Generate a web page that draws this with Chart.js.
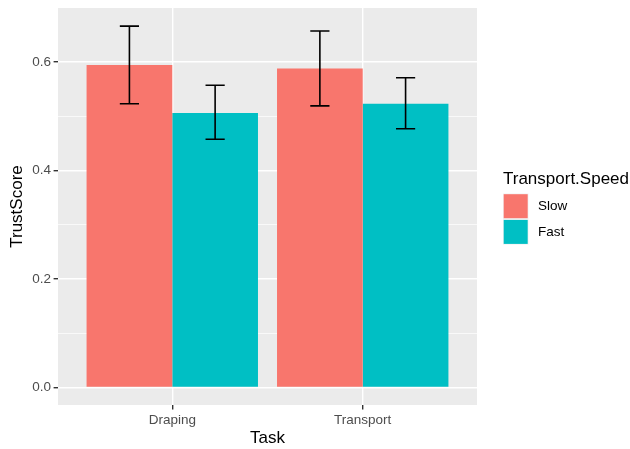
<!DOCTYPE html>
<html>
<head>
<meta charset="utf-8">
<script src="https://cdn.jsdelivr.net/npm/chart.js@4/dist/chart.umd.min.js"></script>
<style>
  html, body { margin: 0; padding: 0; background: #ffffff; }
  #wrap { width: 630px; height: 449px; }
</style>
</head>
<body>
<div id="wrap"><canvas id="c" width="630" height="449"></canvas></div>
<script>
// Mean trust score per task, split by transport speed, with error-bar limits
const tasks = ['Draping', 'Transport'];
const speeds = ['Slow', 'Fast'];
const slowMean = [0.5945, 0.588];
const fastMean = [0.506, 0.523];
const slowLow = [0.523, 0.519];
const slowHigh = [0.666, 0.657];
const fastLow = [0.4575, 0.477];
const fastHigh = [0.557, 0.571];
const yTicks = [0, 0.1, 0.2, 0.3, 0.4, 0.5, 0.6];

const colors = ['#F8766D', '#00BFC4'];
const FONT = '"Liberation Sans", Arial, sans-serif';

const toPoints = arr => arr.map((v, i) => ({ x: i + 1, y: v }));
const errorLimits = [
  { low: slowLow, high: slowHigh },
  { low: fastLow, high: fastHigh }
];

// grey panel behind the grid
const panelBg = {
  id: 'panelBg',
  beforeDraw(chart) {
    const { ctx, chartArea: a } = chart;
    ctx.save();
    ctx.fillStyle = '#EBEBEB';
    ctx.fillRect(a.left, a.top, a.right - a.left, a.bottom - a.top);
    ctx.restore();
  }
};

// whiskers with caps on each bar
const errorBars = {
  id: 'errorBars',
  afterDatasetsDraw(chart) {
    const { ctx } = chart;
    const yScale = chart.scales.y;
    const capHalf = 9.6;
    ctx.save();
    ctx.strokeStyle = '#000000';
    ctx.lineWidth = 1.6;
    chart.data.datasets.forEach((ds, di) => {
      const meta = chart.getDatasetMeta(di);
      meta.data.forEach((bar, i) => {
        const x = bar.x;
        const yLo = yScale.getPixelForValue(errorLimits[di].low[i]);
        const yHi = yScale.getPixelForValue(errorLimits[di].high[i]);
        ctx.beginPath();
        ctx.moveTo(x, yLo); ctx.lineTo(x, yHi);
        ctx.moveTo(x - capHalf, yHi); ctx.lineTo(x + capHalf, yHi);
        ctx.moveTo(x - capHalf, yLo); ctx.lineTo(x + capHalf, yLo);
        ctx.stroke();
      });
    });
    ctx.restore();
  }
};

// legend block on the right: title plus filled keys
const sideLegend = {
  id: 'sideLegend',
  afterDraw(chart) {
    const { ctx } = chart;
    const x0 = 503;
    ctx.save();
    ctx.fillStyle = '#000000';
    ctx.font = '17px ' + FONT;
    ctx.textAlign = 'left';
    ctx.textBaseline = 'alphabetic';
    ctx.fillText('Transport.Speed', x0, 184);
    chart.data.datasets.forEach((ds, i) => {
      const top = 194 + i * 25.7;
      ctx.fillStyle = '#F2F2F2';
      ctx.fillRect(x0, top - 0.5, 25.5, 25.5);
      ctx.fillStyle = ds.backgroundColor;
      ctx.fillRect(x0 + 0.7, top + 0.2, 24, 24);
      ctx.fillStyle = '#000000';
      ctx.font = '13.5px ' + FONT;
      ctx.textBaseline = 'middle';
      ctx.fillText(ds.label, 538, top + 12.7);
    });
    ctx.restore();
  }
};

new Chart(document.getElementById('c'), {
  type: 'bar',
  data: {
    datasets: [
      { label: speeds[0], data: toPoints(slowMean), backgroundColor: colors[0], borderWidth: 0 },
      { label: speeds[1], data: toPoints(fastMean), backgroundColor: colors[1], borderWidth: 0 }
    ]
  },
  options: {
    responsive: false,
    animation: false,
    devicePixelRatio: 1,
    layout: { padding: { top: 8, right: 153, left: 0, bottom: 0 } },
    datasets: { bar: { categoryPercentage: 0.9, barPercentage: 1.0 } },
    plugins: { legend: { display: false }, tooltip: { enabled: false } },
    scales: {
      x: {
        type: 'linear',
        min: 0.4,
        max: 2.6,
        offset: false,
        afterBuildTicks(scale) { scale.ticks = tasks.map((t, i) => ({ value: i + 1 })); },
        afterFit(scale) {
          scale.height = 44;
          scale.paddingLeft = 0;
          scale.paddingRight = 0;
        },
        border: { display: false },
        grid: {
          offset: false,
          color: '#FFFFFF',
          lineWidth: 1.4,
          drawTicks: true,
          tickLength: 4.4,
          tickColor: '#333333',
          tickWidth: 1.4
        },
        ticks: {
          autoSkip: false,
          maxRotation: 0,
          padding: 2.5,
          color: '#4D4D4D',
          font: { family: FONT, size: 13.5 },
          callback: v => tasks[Math.round(v) - 1]
        },
        title: {
          display: true,
          text: 'Task',
          color: '#000000',
          font: { family: FONT, size: 17 },
          padding: { top: 0, bottom: 0.5 }
        }
      },
      y: {
        type: 'linear',
        min: -0.0323,
        max: 0.6995,
        afterBuildTicks(scale) { scale.ticks = yTicks.map(v => ({ value: v })); },
        afterFit(scale) {
          scale.width = 58;
          scale.paddingTop = 0;
          scale.paddingBottom = 0;
        },
        border: { display: false },
        grid: {
          color: '#FFFFFF',
          lineWidth: ctx => (Math.round((ctx.tick ? ctx.tick.value : 0) * 10) % 2 === 0 ? 1.4 : 0.7),
          drawTicks: true,
          tickLength: 4.4,
          tickColor: ctx => (Math.round((ctx.tick ? ctx.tick.value : 0) * 10) % 2 === 0 ? '#333333' : 'rgba(0,0,0,0)'),
          tickWidth: 1.4
        },
        ticks: {
          autoSkip: false,
          padding: 2.6,
          color: '#4D4D4D',
          font: { family: FONT, size: 13.5 },
          callback: v => (Math.round(v * 10) % 2 === 0 ? v.toFixed(1) : '')
        },
        title: {
          display: true,
          text: 'TrustScore',
          color: '#000000',
          font: { family: FONT, size: 17 },
          padding: { top: 7.3, bottom: 0 }
        }
      }
    }
  },
  plugins: [panelBg, errorBars, sideLegend]
});
</script>
</body>
</html>
